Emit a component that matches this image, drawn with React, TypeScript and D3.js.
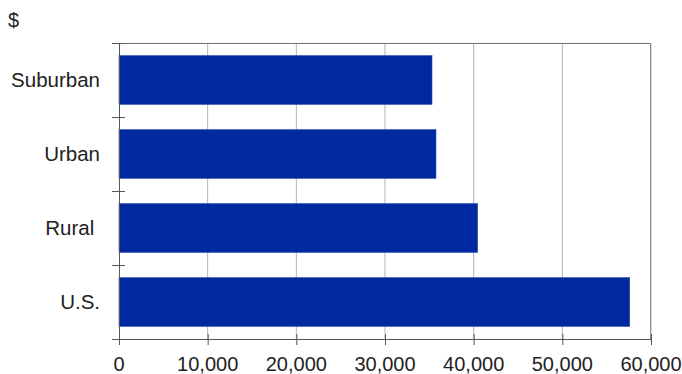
import React from "react";
import * as d3 from "d3";

const categories = ["Suburban", "Urban", "Rural ", "U.S."];
const values = [35300, 35750, 40450, 57600];
const xTicks = [0, 10000, 20000, 30000, 40000, 50000, 60000];
const unitLabel = "$";

export default function App() {
  const W = 682, H = 374;
  const left = 119, right = 651, top = 43, bottom = 339;
  const x = d3.scaleLinear().domain([0, 60000]).range([left, right]);
  const y = d3.scaleBand().domain(categories).range([top, bottom]).paddingInner(0.34).paddingOuter(0.17);
  const band = (bottom - top) / categories.length;
  const fmt = d3.format(",");
  const font = "'Liberation Sans', Arial, sans-serif";
  return (
    <svg width={W} height={H} style={{ position: "absolute", left: 0, top: 0 }}>
      <rect width={W} height={H} fill="#fff" />
      <text x={8} y={27} fontFamily={font} fontSize={20} fill="#222">{unitLabel}</text>
      {xTicks.slice(1).map((t) => (
        <line key={t} x1={x(t)} x2={x(t)} y1={top} y2={bottom} stroke="#b4b4b4" strokeWidth={1} />
      ))}
      <line x1={left} x2={right} y1={top + 0.5} y2={top + 0.5} stroke="#707070" />
      <line x1={right - 0.5} x2={right - 0.5} y1={top} y2={bottom} stroke="#909090" />
      {categories.map((c, i) => (
        <rect key={c} x={x(0)} y={y(c)} width={x(values[i]) - x(0)} height={y.bandwidth()}
          fill="#0029a0" stroke="#2a4cb0" strokeWidth={0.6} />
      ))}
      <line x1={left + 0.5} x2={left + 0.5} y1={top} y2={bottom + 6} stroke="#555" />
      <line x1={left} x2={right} y1={bottom + 0.5} y2={bottom + 0.5} stroke="#555" />
      {d3.range(categories.length + 1).map((i) => (
        <line key={i} x1={112} x2={125} y1={top + i * band + 0.5} y2={top + i * band + 0.5} stroke="#555" />
      ))}
      {xTicks.map((t) => (
        <g key={t}>
          <line x1={x(t) + 0.5} x2={x(t) + 0.5} y1={bottom - 5} y2={bottom + 6} stroke="#555" />
          <text x={x(t)} y={371} textAnchor="middle" fontFamily={font} fontSize={20} fill="#222">{fmt(t)}</text>
        </g>
      ))}
      {categories.map((c) => (
        <text key={c} x={100} y={(y(c) as number) + y.bandwidth() / 2} dy="0.35em" textAnchor="end"
          fontFamily={font} fontSize={20.5} fill="#222" style={{ whiteSpace: "pre" }}>{c}</text>
      ))}
    </svg>
  );
}
